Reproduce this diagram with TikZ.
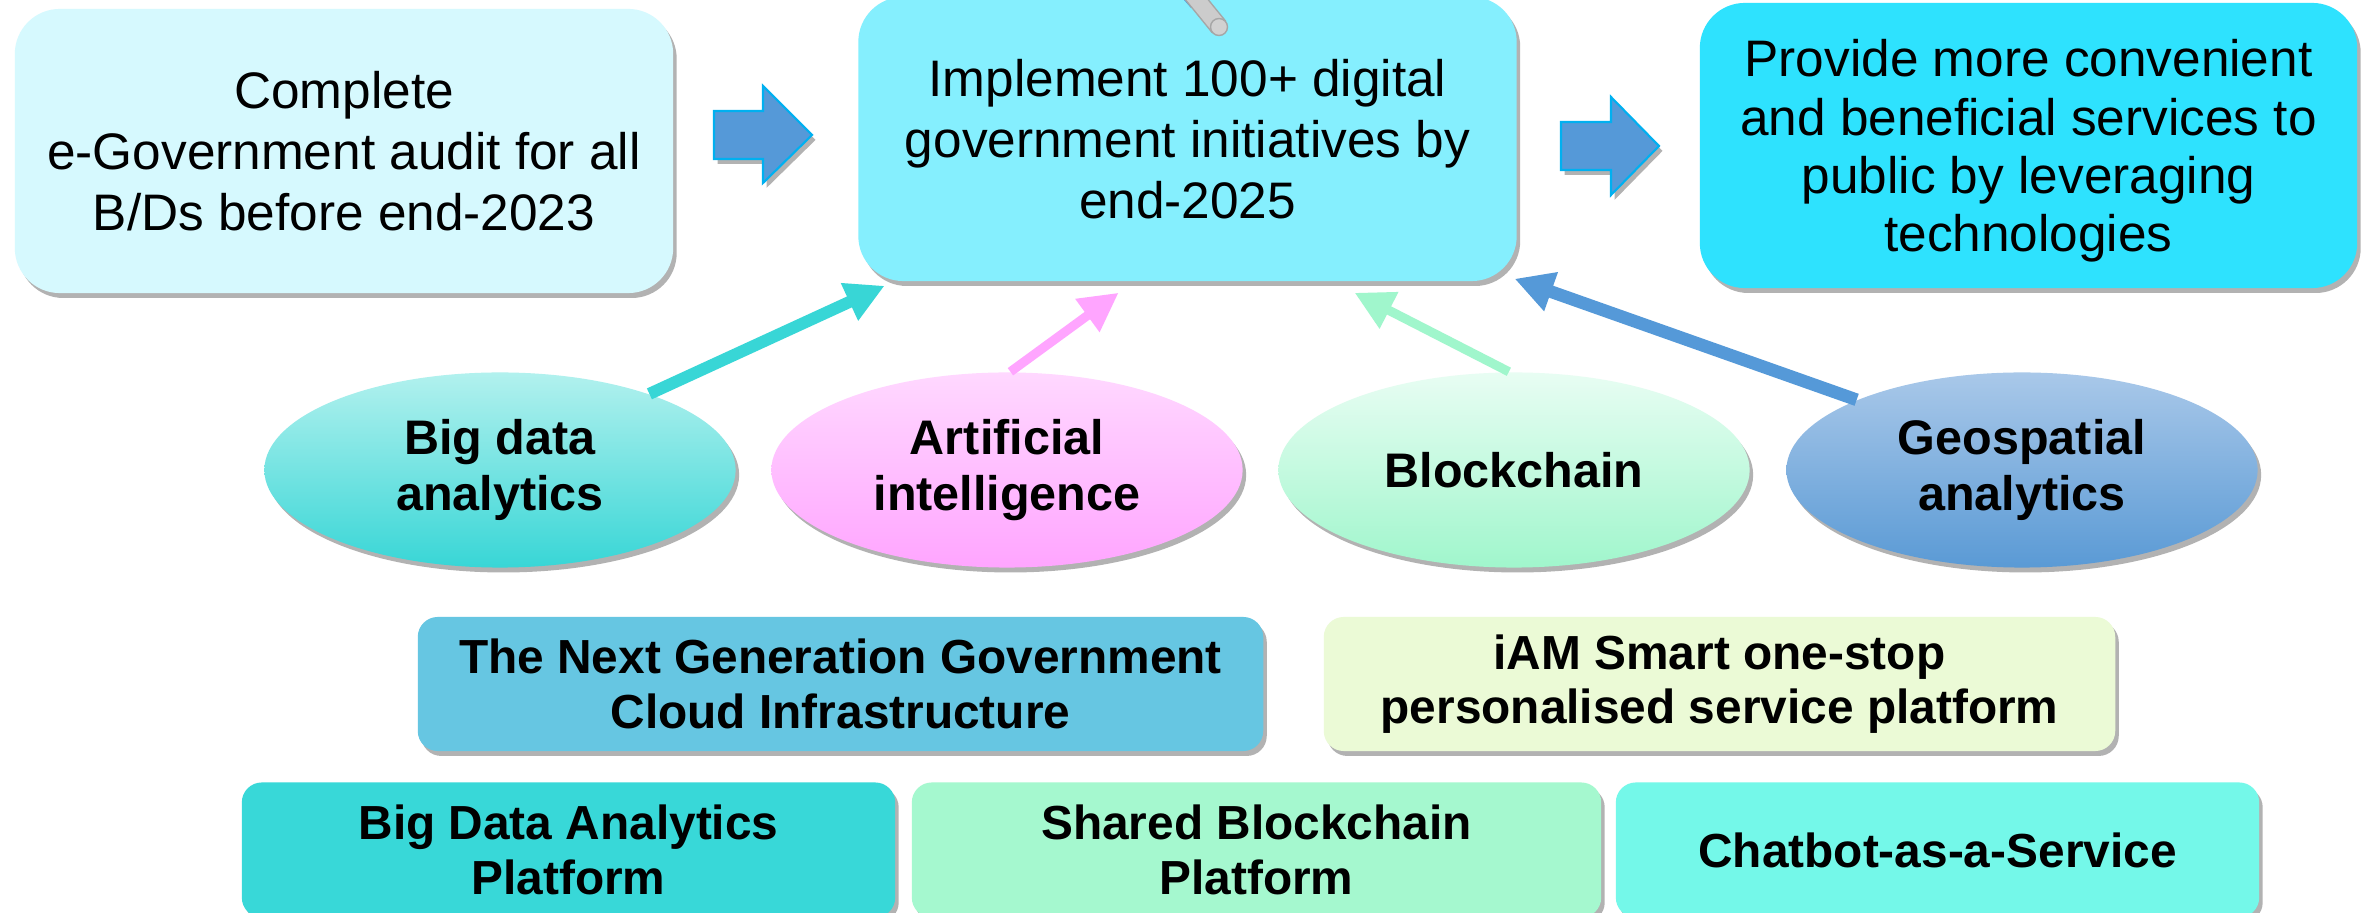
\documentclass[tikz,border=0pt]{standalone}
\usepackage{fontspec}
\setmainfont{Liberation Sans}
\usetikzlibrary{shadows,arrows.meta,calc,shapes.geometric}
\definecolor{cA}{HTML}{D6F9FE}
\definecolor{cB}{HTML}{85EFFE}
\definecolor{cC}{HTML}{2EE2FE}
\definecolor{blk}{HTML}{5599D8}
\definecolor{blkb}{HTML}{00B0F0}
\definecolor{bdT}{HTML}{B2F1EE}
\definecolor{bdB}{HTML}{38D6D6}
\definecolor{aiT}{HTML}{FFD8FF}
\definecolor{aiB}{HTML}{FFA5FF}
\definecolor{bcT}{HTML}{E8FDF3}
\definecolor{bcB}{HTML}{A0F6CC}
\definecolor{geT}{HTML}{A9C8E9}
\definecolor{geB}{HTML}{5A9AD5}
\definecolor{ngC}{HTML}{66C6E2}
\definecolor{iaC}{HTML}{EBFAD6}
\definecolor{bpC}{HTML}{38D8D8}
\definecolor{sbC}{HTML}{A5F8CF}
\definecolor{cbC}{HTML}{74F8E9}
\definecolor{cylF}{HTML}{CCCCCC}
\definecolor{cylD}{HTML}{A6A6A6}
\begin{document}
\begin{tikzpicture}[x=0.01cm,y=-0.01cm,
  sh/.style={drop shadow={shadow xshift=1pt,shadow yshift=-1.4pt,opacity=0.3,fill=black}},
  topbox/.style={rounded corners=0.45cm, sh, align=center, inner sep=0pt,
    minimum width=6.58cm, minimum height=2.84cm,
    font=\fontsize{14.6}{17.4}\selectfont},
  ell/.style={ellipse, minimum width=4.71cm, minimum height=1.95cm, inner sep=0pt,
    align=center, font=\bfseries\fontsize{13.8}{16}\selectfont, sh},
  bbox/.style={rounded corners=0.2cm, sh, align=center, inner sep=0pt,
    minimum height=1.35cm, font=\bfseries\fontsize{13.6}{15.5}\selectfont},
  blockarr/.style={fill=blk, draw=blkb, line width=0.6pt, sh},
  larr/.style={line width=#1, -{Triangle[length=11pt,width=11pt]}}
]
\useasboundingbox (0,0) rectangle (2372,913);
\fill[white] (0,0) rectangle (2372,913);

% top boxes
\node[topbox, fill=cA] (audit) at (344,151)
  {Complete\\e-Government audit for all\\B/Ds before end-2023};
\node[topbox, fill=cB] (impl) at (1187.5,139)
  {Implement 100+ digital\\government initiatives by\\end-2025};
\node[topbox, fill=cC, minimum width=6.57cm, minimum height=2.85cm,
      font=\fontsize{14.6}{16.6}\selectfont] (serv) at (2028.5,145.5)
  {\raisebox{-5.6pt}[0pt][0pt]{\begin{tabular}{@{}c@{}}Provide more convenient\\and beneficial services to\\public by leveraging\\technologies\end{tabular}}};

% block arrows
\draw[blockarr] (714,111) -- (763,111) -- (763,86) -- (812,135) -- (763,183) -- (763,159) -- (714,159) -- cycle;
\draw[blockarr] (1561,122) -- (1611,122) -- (1611,97) -- (1659,146) -- (1611,195) -- (1611,170) -- (1561,170) -- cycle;

% pin at top
\fill[blk] (1184,0) -- (1193,0) -- (1191,8) -- cycle;
\draw[cylD, line width=0.19cm] (1180,-21) -- (1219,27);
\draw[cylF, line width=0.16cm] (1180,-21) -- (1219,27);
\draw[cylD, fill=cylF!90!white, line width=0.4pt] (1219,27) circle[radius=0.085cm];

% technology ellipses
\node[ell, top color=bdT, bottom color=bdB] (bd) at (500,470) {Big data\\analytics};
\node[ell, top color=aiT, bottom color=aiB] (ai) at (1007,470) {Artificial\\intelligence};
\node[ell, top color=bcT, bottom color=bcB] (bc) at (1514,470) {Blockchain};
\node[ell, top color=geT, bottom color=geB] (geo) at (2022,470) {Geospatial\\analytics};

% connectors
\draw[larr=3.4pt, draw=bdB] (bd.27) -- ($(impl.south west)+(27,4)$);
\draw[larr=2.6pt, draw=aiB] (ai.88) -- ($(impl.south west)+(261,11)$);
\draw[larr=2.6pt, draw=bcB] (bc.93) -- ($(impl.south west)+(497,11)$);
\draw[larr=3.6pt, draw=blk] (geo.157) -- ($(impl.south west)+(657,-3)$);

% platform boxes
\node[bbox, fill=ngC, minimum width=8.45cm, minimum height=1.34cm] (ng) at (840.5,684)
  {The Next Generation Government\\Cloud Infrastructure};
\node[bbox, fill=iaC, minimum width=7.91cm, minimum height=1.34cm] (iam) at (1719.5,684)
  {iAM Smart one-stop\\personalised service platform};
\node[bbox, fill=bpC, minimum width=6.53cm] (bdp) at (568.5,850)
  {Big Data Analytics\\Platform};
\node[bbox, fill=sbC, minimum width=6.89cm] (sbp) at (1256.5,850)
  {Shared Blockchain\\Platform};
\node[bbox, fill=cbC, minimum width=6.43cm] (cbs) at (1937.5,850)
  {Chatbot-as-a-Service};
\end{tikzpicture}
\end{document}
